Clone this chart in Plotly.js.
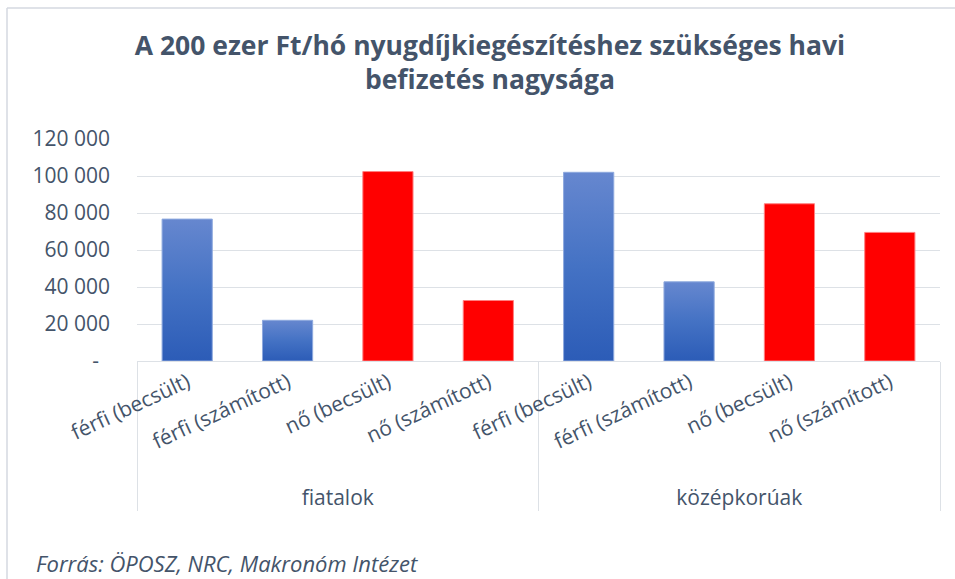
<!DOCTYPE html>
<html>
<head>
<meta charset="utf-8">
<script src="https://cdn.plot.ly/plotly-3.0.1.min.js"></script>
<style>
  html, body { margin: 0; padding: 0; background: #fff; }
  #chart { width: 955px; height: 579px; }
</style>
</head>
<body>
<div id="chart"></div>
<script>
// ---- data ----
const groups = ["fiatalok", "fiatalok", "fiatalok", "fiatalok",
                "középkorúak", "középkorúak", "középkorúak", "középkorúak"];
const categories = ["férfi (becsült)", "férfi (számított)", "nő (becsült)", "nő (számított)",
                    "férfi (becsült)", "férfi (számított)", "nő (becsült)", "nő (számított)"];
const values = [76700, 22000, 102400, 32700, 102000, 42800, 85000, 69500];
const sex = ["férfi", "férfi", "nő", "nő", "férfi", "férfi", "nő", "nő"];
const yTickVals = [0, 20000, 40000, 60000, 80000, 100000, 120000];
const yTickText = ["-\u00A0\u00A0", "20 000", "40 000", "60 000", "80 000", "100 000", "120 000"];
const titleText = "A 200 ezer Ft/hó nyugdíjkiegészítéshez szükséges havi<br>befizetés nagysága";
const sourceText = "Forrás: ÖPOSZ, NRC, Makronóm Intézet";

// ---- styling ----
const fillColor = sex.map(s => s === "férfi" ? "#4472C4" : "#FF0000");
const lineColor = sex.map(s => s === "férfi" ? "#8EA9DE" : "#FF8080");
const textColor = "#44546A";
const gridColor = "#DDE1E6";

const L = 137, R = 15, T = 139, B = 218;
const W = 955, H = 579;
const pw = W - L - R, ph = H - T - B;
const px = x => (x - L) / pw;
const py = y => (H - B - y) / ph;

const trace = {
  type: "bar",
  x: [groups, categories],
  y: values,
  marker: { color: fillColor, line: { color: lineColor, width: 1 } },
  hoverinfo: "none"
};

const layout = {
  width: W, height: H,
  margin: { l: L, r: R, t: T, b: B },
  paper_bgcolor: "#fff",
  plot_bgcolor: "#fff",
  separators: ", ",
  showlegend: false,
  bargap: 0.5,
  font: { family: "Open Sans, sans-serif", color: textColor, size: 21 },
  title: {
    text: titleText,
    font: { family: "Open Sans, sans-serif", size: 26.5, color: textColor, weight: "bold" },
    x: 490 / W, xanchor: "center", xref: "container",
    y: 1 - 55 / H, yanchor: "top", yref: "container"
  },
  xaxis: {
    type: "multicategory",
    tickangle: -25,
    showline: true, linecolor: gridColor, linewidth: 1,
    showgrid: false, ticks: "",
    showdividers: true, dividercolor: gridColor, dividerwidth: 1,
    tickfont: { size: 21, color: textColor }
  },
  yaxis: {
    range: [0, 120000],
    tickvals: yTickVals, ticktext: yTickText,
    showgrid: true, gridcolor: gridColor, gridwidth: 1,
    zeroline: false, showline: false, ticks: "",
    ticklabelstandoff: 26,
    tickfont: { size: 21, color: textColor }
  },
  annotations: [{
    text: "<i>" + sourceText + "</i>",
    xref: "paper", yref: "paper",
    x: px(34), y: py(563), xanchor: "left", yanchor: "middle",
    showarrow: false,
    font: { family: "Open Sans, sans-serif", size: 22, color: textColor }
  }],
  shapes: [
    { type: "line", xref: "paper", yref: "paper", x0: px(7), x1: px(7), y0: py(8), y1: py(585),
      line: { color: "#D5D9E0", width: 1.5 } },
    { type: "line", xref: "paper", yref: "paper", x0: px(7), x1: px(960), y0: py(8), y1: py(8),
      line: { color: "#D5D9E0", width: 1.5 } }
  ]
};

Plotly.newPlot("chart", [trace], layout, { staticPlot: true }).then(gd => {
  const svg = gd.querySelector("svg.main-svg");
  const ns = "http://www.w3.org/2000/svg";
  let defs = svg.querySelector("defs");
  if (!defs) { defs = document.createElementNS(ns, "defs"); svg.insertBefore(defs, svg.firstChild); }
  const grad = document.createElementNS(ns, "linearGradient");
  grad.setAttribute("id", "blueGrad");
  grad.setAttribute("x1", "0"); grad.setAttribute("y1", "0");
  grad.setAttribute("x2", "0"); grad.setAttribute("y2", "1");
  [["0", "#6687CF"], ["0.5", "#4472C4"], ["1", "#2C5CB7"]].forEach(([o, c]) => {
    const s = document.createElementNS(ns, "stop");
    s.setAttribute("offset", o); s.setAttribute("stop-color", c);
    grad.appendChild(s);
  });
  defs.appendChild(grad);
  const paths = gd.querySelectorAll(".bars .point path");
  paths.forEach((p, i) => {
    if (sex[i] === "férfi") p.style.fill = "url(#blueGrad)";
  });
});
</script>
</body>
</html>
